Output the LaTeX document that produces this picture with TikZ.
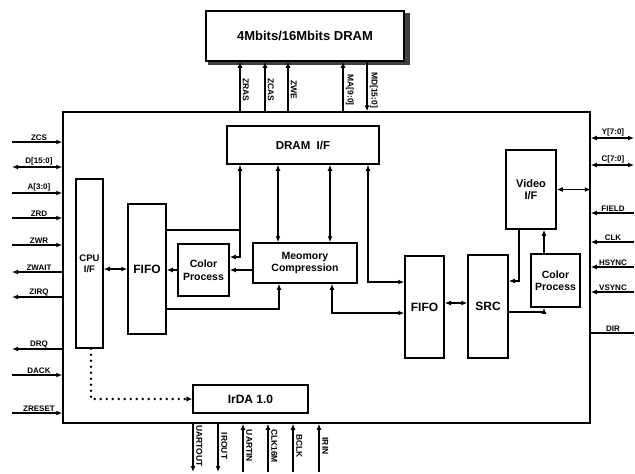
\documentclass[tikz,border=0pt]{standalone}
\usepackage{fontspec}
\setmainfont{Liberation Sans}
\usetikzlibrary{arrows.meta, positioning}

\tikzset{
  blk/.style={draw, line width=1.5pt, inner sep=0pt, align=center,
    font=\bfseries\fontsize{11}{12.5}\selectfont},
  sig/.style={line width=1.2pt},
  lbl/.style={inner sep=1.2pt, font=\bfseries\fontsize{8}{9}\selectfont},
  vlbl/.style={lbl, rotate=-90, anchor=south, font=\bfseries\fontsize{8.5}{9}\selectfont},
}

\begin{document}
\begin{tikzpicture}[x=1pt, y=-1pt, >={Latex[length=6pt,width=5pt]}]
    \useasboundingbox (0,0) rectangle (635,474);

    % DRAM chip with shadow
    \node[blk, minimum width=198pt, minimum height=50pt, font=\bfseries\fontsize{13}{14}\selectfont] (dram) at (305,36) {4Mbits/16Mbits DRAM};
    \fill[black!75] ([shift={(0,3)}]dram.north east) rectangle ([shift={(5,3)}]dram.south east);
    \fill[black!75] ([shift={(3,0)}]dram.south west) rectangle ([shift={(5,3)}]dram.south east);

    % Chip outline
    \node[blk, minimum width=527pt, minimum height=311pt] (main) at (326.5,267.5) {};

    % Blocks
    \node[blk, minimum width=27pt, minimum height=169pt, font=\bfseries\fontsize{9.5}{11}\selectfont] (cpu) at (89.5,263.5) {CPU\\I/F};
    \node[blk, minimum width=38pt, minimum height=130pt, font=\bfseries\fontsize{12}{13}\selectfont] (fifoA) at (147,269) {FIFO};
    \node[blk, minimum width=51pt, minimum height=52pt, font=\bfseries\fontsize{10.5}{12.5}\selectfont] (colA) at (203.5,270) {Color\\Process};
    \node[blk, minimum width=104pt, minimum height=40pt, font=\bfseries\fontsize{10.5}{12.5}\selectfont] (mem) at (305,263) {Meomory\\Compression};
    \node[blk, minimum width=152pt, minimum height=38pt, font=\bfseries\fontsize{11.5}{12}\selectfont] (dramif) at (303,145) {DRAM\ \ I/F};
    \node[blk, minimum width=39pt, minimum height=102pt, font=\bfseries\fontsize{12}{13}\selectfont] (fifoB) at (424.5,307) {FIFO};
    \node[blk, minimum width=40pt, minimum height=103pt, font=\bfseries\fontsize{12}{13}\selectfont] (src) at (488,306.5) {SRC};
    \node[blk, minimum width=50pt, minimum height=79pt] (video) at (531,189.5) {Video\\I/F};
    \node[blk, minimum width=49pt, minimum height=53pt, font=\bfseries\fontsize{10.5}{12.5}\selectfont] (colB) at (555.5,280.5) {Color\\Process};
    \node[blk, minimum width=115pt, minimum height=28pt, font=\bfseries\fontsize{12}{13}\selectfont] (irda) at (250.5,399) {IrDA 1.0};

    % Internal connections
    \coordinate (jA) at (240,230);
    \draw[sig,<->] (cpu.east |- fifoA.west) -- (fifoA.west);
    \draw[sig,->] (colA.west) -- (colA.west -| fifoA.east);
    \draw[sig,->] (mem.west |- colA.east) -- (colA.east);
    \draw[sig] (fifoA.east |- jA) -- (jA);
    \draw[sig,<->] (jA |- dramif.south) -- (jA) |- ([yshift=13pt]colA.east);
    \draw[sig,<->] ([xshift=-27pt]mem.north) -- ([xshift=-27pt]mem.north |- dramif.south);
    \draw[sig,<->] ([xshift=25pt]mem.north) -- ([xshift=25pt]mem.north |- dramif.south);
    \draw[sig,<->] ([xshift=65pt]dramif.south) |- ([yshift=25pt]fifoB.west);
    \draw[sig,->] ([yshift=-40pt]fifoA.east) -| ([xshift=-26pt]mem.south);
    \draw[sig,<->] ([xshift=27pt]mem.south) |- ([yshift=-6pt]fifoB.west);
    \draw[sig,<->] ([yshift=4pt]fifoB.east) -- ([yshift=4pt]fifoB.east -| src.west);
    \draw[sig,->] ([xshift=-12pt]video.south) |- ([yshift=25.5pt]src.east);
    \draw[sig,->] ([xshift=-11.5pt]colB.north) -- ([xshift=-11.5pt]colB.north |- video.south);
    \draw[sig,->] ([yshift=-5.5pt]src.east) -| ([xshift=-11.5pt]colB.south);
    \draw[sig,<->] (video.east) -- (video.east -| main.east);
    \draw[line width=2.8pt, dash pattern=on 0pt off 6pt, line cap=round, -{Latex[length=6pt,width=5.5pt]}] ([xshift=1.5pt]cpu.south) |- (irda.west);

    % Left pins
    \foreach \y/\txt in {142/ZCS, 193/A[3:0], 218/ZRD, 245/ZWR, 375/DACK, 413/ZRESET} {
      \coordinate (l\y) at (12,\y);
      \draw[sig,->] (l\y) -- (l\y -| main.west);
      \node[lbl, above] (ll\y) at (39,\y) {\txt};
    }
    \foreach \y/\txt in {272/ZWAIT, 297/ZIRQ, 349/DRQ} {
      \coordinate (l\y) at (12,\y);
      \draw[sig,<-] (l\y) -- (l\y -| main.west);
      \node[lbl, above] (ll\y) at (39,\y) {\txt};
    }
    \coordinate (l167) at (12,167);
    \draw[sig,<->] (l167) -- (l167 -| main.west);
    \node[lbl, above] (ll167) at (39,167) {D[15:0]};

    % Right pins
    \foreach \y/\txt in {138/Y[7:0], 165/C[7:0]} {
      \coordinate (r\y) at (634,\y);
      \draw[sig,<->] (r\y) -- (r\y -| main.east);
      \node[lbl, above] (rl\y) at (613,\y) {\txt};
    }
    \foreach \y/\txt in {213/FIELD, 242/CLK, 267/HSYNC, 292/VSYNC} {
      \coordinate (r\y) at (634,\y);
      \draw[sig,->] (r\y) -- (r\y -| main.east);
      \node[lbl, above] (rl\y) at (613,\y) {\txt};
    }
    \coordinate (r333) at (634,333);
    \draw[sig] (r333) -- (r333 -| main.east);
    \node[lbl, above] (rl333) at (613,333) {DIR};

    % DRAM pins
    \foreach \x/\txt in {240/ZRAS, 265/ZCAS, 288/ZWE, 343/MA[9:0]} {
      \coordinate (t\x) at (\x,90);
      \draw[sig,->] (t\x |- main.north) -- (t\x |- dram.south);
      \node[vlbl] (tl\x) at ([xshift=1.5pt]t\x) {\txt};
    }
    \coordinate (t367) at (367,90);
    \draw[sig,->] (t367 |- dram.south) -- (t367 |- main.north);
    \node[vlbl] (tl367) at ([xshift=1.5pt]t367) {MD[15:0]};

    % IrDA pins
    \foreach \x/\txt in {193/UARTOUT, 218/IROUT} {
      \coordinate (b\x) at (\x,446);
      \draw[sig,->] (b\x |- main.south) -- ([yshift=-26pt]b\x);
      \node[vlbl] (bl\x) at ([xshift=2pt]b\x) {\txt};
    }
    \foreach \x/\txt in {243/UARTIN, 268/CLK16M, 293/BCLK, 319/IRIN} {
      \coordinate (b\x) at (\x,446);
      \draw[sig,<-] (b\x |- main.south) -- ([yshift=-26pt]b\x);
      \node[vlbl] (bl\x) at ([xshift=2pt]b\x) {\txt};
    }
\end{tikzpicture}
\end{document}
